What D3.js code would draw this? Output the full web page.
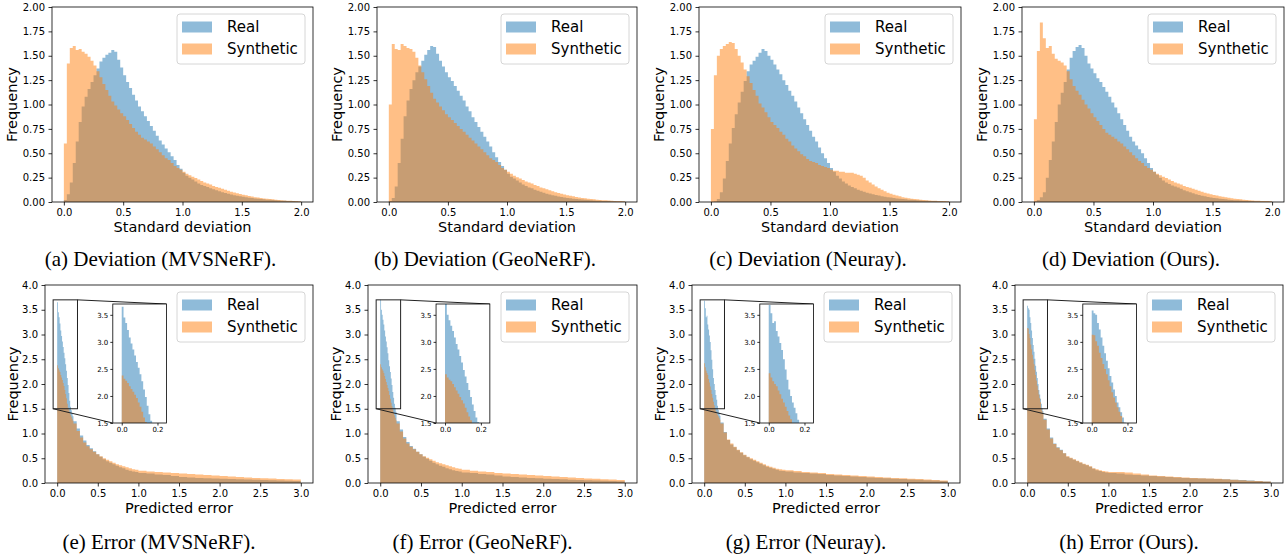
<!DOCTYPE html>
<html><head><meta charset="utf-8">
<script src="https://cdn.jsdelivr.net/npm/d3@7"></script>
<style>
body{margin:0;background:#fff;}
svg text{font-family:"DejaVu Sans",sans-serif;}
svg text.cap{font-family:"Liberation Serif","Times New Roman",serif;}
</style></head><body>
<svg id="c" width="1288" height="554"></svg>
<script>
// ---------------- DATA ----------------
const methods = ["MVSNeRF", "GeoNeRF", "Neuray", "Ours"];
const devLetters = ["a", "b", "c", "d"];
const errLetters = ["e", "f", "g", "h"];
const seriesNames = ["Real", "Synthetic"];
const devXLabel = "Standard deviation";
const errXLabel = "Predicted error";
const yLabel = "Frequency";
const devXTicks = [0, 0.5, 1.0, 1.5, 2.0];
const devYTicks = [0, 0.25, 0.5, 0.75, 1.0, 1.25, 1.5, 1.75, 2.0];
const errXTicks = [0, 0.5, 1.0, 1.5, 2.0, 2.5, 3.0];
const errYTicks = [0, 0.5, 1.0, 1.5, 2.0, 2.5, 3.0, 3.5, 4.0];
const insetXTicks = [0, 0.2];
const insetYTicks = [1.5, 2.0, 2.5, 3.0, 3.5];
const insetXLim = [-0.05, 0.25];
const insetYLim = [1.5, 3.7];

// Deviation histograms: 80 bins of width 0.025 over [0, 2] (density)
const devRange = [0, 2];
const devBins = 80;
const devReal_MVSNeRF = [
0.02,0.08,0.2,0.4,0.62,0.82,0.98,1.08,1.16,1.23,
1.3,1.37,1.44,1.48,1.51,1.53,1.56,1.54,1.46,1.38,
1.3,1.23,1.17,1.1,1.04,0.98,0.93,0.88,0.83,0.78,
0.73,0.68,0.63,0.59,0.55,0.51,0.47,0.43,0.38,0.34,
0.3,0.27,0.25,0.23,0.21,0.19,0.175,0.165,0.155,0.14,
0.13,0.12,0.11,0.1,0.092,0.085,0.078,0.07,0.064,0.058,
0.053,0.048,0.044,0.04,0.036,0.033,0.03,0.027,0.024,0.022,
0.02,0.018,0.016,0.014,0.012,0.011,0.01,0.009,0.007,0.006];
const devSyn_MVSNeRF = [
0.6,1.42,1.58,1.6,1.56,1.57,1.54,1.52,1.49,1.45,
1.4,1.34,1.28,1.21,1.15,1.09,1.03,0.99,0.95,0.91,
0.88,0.84,0.8,0.76,0.72,0.69,0.66,0.64,0.62,0.6,
0.57,0.54,0.51,0.48,0.45,0.43,0.4,0.37,0.35,0.33,
0.31,0.29,0.275,0.26,0.245,0.23,0.215,0.2,0.19,0.18,
0.165,0.155,0.145,0.135,0.125,0.115,0.105,0.097,0.09,0.082,
0.075,0.068,0.062,0.056,0.05,0.045,0.04,0.036,0.033,0.03,
0.027,0.024,0.021,0.018,0.016,0.014,0.012,0.011,0.009,0.008];
const devReal_GeoNeRF = [
0.01,0.04,0.16,0.4,0.65,0.88,1.04,1.16,1.25,1.33,
1.39,1.45,1.51,1.56,1.6,1.59,1.52,1.45,1.39,1.33,
1.28,1.24,1.19,1.14,1.09,1.04,0.98,0.93,0.87,0.82,
0.77,0.72,0.67,0.62,0.57,0.51,0.46,0.41,0.37,0.33,
0.29,0.26,0.24,0.22,0.2,0.18,0.165,0.15,0.14,0.125,
0.115,0.105,0.095,0.085,0.077,0.07,0.063,0.057,0.052,0.047,
0.042,0.038,0.034,0.031,0.028,0.025,0.022,0.02,0.018,0.016,
0.014,0.013,0.011,0.01,0.009,0.008,0.007,0.006,0.005,0.004];
const devSyn_GeoNeRF = [
1.0,1.62,1.57,1.56,1.62,1.6,1.58,1.57,1.54,1.48,
1.4,1.33,1.26,1.19,1.12,1.06,1.02,0.98,0.94,0.9,
0.87,0.84,0.81,0.78,0.75,0.72,0.69,0.66,0.63,0.6,
0.57,0.54,0.51,0.48,0.45,0.43,0.41,0.38,0.35,0.33,
0.31,0.29,0.27,0.255,0.24,0.225,0.21,0.2,0.19,0.175,
0.165,0.15,0.14,0.13,0.12,0.11,0.1,0.092,0.085,0.078,
0.07,0.064,0.058,0.052,0.047,0.042,0.038,0.034,0.03,0.027,
0.024,0.021,0.019,0.017,0.015,0.013,0.011,0.01,0.009,0.008];
const devReal_Neuray = [
0.0,0.005,0.03,0.1,0.24,0.42,0.6,0.76,0.9,1.02,
1.13,1.24,1.34,1.41,1.45,1.49,1.53,1.57,1.55,1.5,
1.46,1.41,1.36,1.31,1.25,1.2,1.14,1.09,1.03,0.97,
0.91,0.85,0.79,0.73,0.67,0.62,0.56,0.5,0.45,0.4,
0.35,0.31,0.27,0.24,0.21,0.19,0.17,0.155,0.14,0.125,
0.115,0.105,0.095,0.087,0.08,0.073,0.066,0.06,0.055,0.05,
0.045,0.041,0.037,0.033,0.03,0.027,0.024,0.022,0.02,0.018,
0.016,0.014,0.012,0.011,0.01,0.009,0.008,0.007,0.006,0.005];
const devSyn_Neuray = [
0.75,1.3,1.5,1.57,1.6,1.62,1.64,1.63,1.57,1.5,
1.43,1.36,1.29,1.22,1.15,1.09,1.01,0.97,0.92,0.87,
0.82,0.79,0.76,0.72,0.69,0.65,0.62,0.58,0.55,0.52,
0.49,0.47,0.44,0.42,0.41,0.4,0.38,0.37,0.36,0.35,
0.33,0.32,0.32,0.31,0.31,0.3,0.3,0.3,0.29,0.28,
0.27,0.25,0.22,0.2,0.18,0.16,0.14,0.125,0.11,0.095,
0.085,0.075,0.066,0.058,0.05,0.044,0.039,0.034,0.03,0.027,
0.024,0.021,0.018,0.016,0.014,0.012,0.011,0.01,0.009,0.008];
const devReal_Ours = [
0.005,0.02,0.05,0.1,0.25,0.43,0.62,0.82,1.0,1.12,
1.23,1.36,1.48,1.55,1.59,1.61,1.58,1.5,1.42,1.37,
1.32,1.27,1.23,1.18,1.13,1.08,1.02,0.97,0.91,0.85,
0.79,0.73,0.67,0.62,0.58,0.54,0.5,0.45,0.4,0.35,
0.31,0.28,0.25,0.22,0.2,0.185,0.17,0.16,0.15,0.135,
0.12,0.11,0.1,0.09,0.08,0.072,0.065,0.058,0.052,0.047,
0.042,0.038,0.034,0.03,0.027,0.024,0.021,0.019,0.017,0.015,
0.013,0.012,0.01,0.009,0.008,0.007,0.006,0.005,0.004,0.004];
const devSyn_Ours = [
0.85,1.55,1.84,1.68,1.58,1.6,1.52,1.47,1.45,1.43,
1.4,1.34,1.26,1.19,1.14,1.1,1.05,1.0,0.96,0.91,
0.87,0.83,0.79,0.75,0.71,0.69,0.67,0.65,0.62,0.6,
0.57,0.54,0.51,0.48,0.45,0.42,0.4,0.37,0.35,0.33,
0.31,0.29,0.275,0.26,0.245,0.23,0.215,0.2,0.19,0.18,
0.165,0.155,0.145,0.135,0.125,0.115,0.105,0.095,0.087,0.08,
0.073,0.066,0.06,0.054,0.048,0.043,0.038,0.034,0.03,0.027,
0.024,0.021,0.018,0.016,0.014,0.012,0.011,0.01,0.009,0.008];

// Error histograms: variable bins -> [start, end, count]
const errBinSegments = [[0, 0.2, 20], [0.2, 1.0, 20], [1.0, 3.0, 20]];
const errReal_MVSNeRF = [
3.65,3.45,3.35,3.22,3.08,2.97,2.86,2.75,2.63,2.52,2.4,2.27,2.12,1.98,1.82,1.66,1.54,1.47,1.41,1.35,
1.25,1.1,0.96,0.86,0.77,0.7,0.64,0.58,0.53,0.48,0.44,0.41,0.38,0.35,0.32,0.3,0.27,0.25,0.23,0.22,
0.2,0.19,0.17,0.16,0.14,0.12,0.11,0.1,0.095,0.09,0.085,0.08,0.075,0.07,0.065,0.06,0.055,0.05,0.045,0.04];
const errSyn_MVSNeRF = [
2.38,2.32,2.28,2.24,2.18,2.13,2.08,2.02,1.96,1.88,1.8,1.71,1.6,1.52,1.47,1.42,1.38,1.34,1.3,1.26,
1.2,1.05,0.92,0.82,0.74,0.68,0.63,0.58,0.54,0.5,0.47,0.44,0.41,0.38,0.36,0.34,0.32,0.3,0.28,0.27,
0.25,0.23,0.22,0.21,0.2,0.19,0.18,0.17,0.16,0.15,0.14,0.13,0.12,0.11,0.1,0.095,0.09,0.08,0.075,0.07];
const errReal_GeoNeRF = [
3.7,3.5,3.4,3.3,3.2,3.08,2.96,2.86,2.74,2.62,2.48,2.36,2.24,2.11,1.98,1.84,1.72,1.6,1.52,1.44,
1.25,1.08,0.93,0.83,0.75,0.69,0.63,0.58,0.53,0.49,0.45,0.41,0.38,0.35,0.33,0.3,0.28,0.26,0.24,0.23,
0.21,0.2,0.18,0.17,0.15,0.13,0.12,0.11,0.1,0.095,0.085,0.08,0.075,0.065,0.06,0.055,0.05,0.045,0.04,0.035];
const errSyn_GeoNeRF = [
2.4,2.34,2.3,2.27,2.22,2.16,2.1,2.04,1.98,1.92,1.86,1.78,1.7,1.62,1.55,1.48,1.42,1.37,1.32,1.27,
1.2,1.04,0.9,0.8,0.73,0.68,0.63,0.58,0.54,0.51,0.48,0.45,0.42,0.4,0.38,0.36,0.34,0.32,0.3,0.29,
0.27,0.25,0.23,0.22,0.2,0.19,0.18,0.17,0.16,0.15,0.14,0.13,0.12,0.11,0.1,0.09,0.085,0.075,0.07,0.06];
const errReal_Neuray = [
3.68,3.53,3.35,3.38,3.2,3.1,2.98,2.85,2.68,2.49,2.3,2.12,2.0,1.88,1.78,1.68,1.56,1.48,1.42,1.36,
1.22,1.03,0.87,0.78,0.72,0.66,0.61,0.56,0.52,0.48,0.45,0.42,0.39,0.36,0.33,0.31,0.29,0.27,0.25,0.24,
0.23,0.21,0.2,0.19,0.18,0.16,0.15,0.14,0.13,0.12,0.11,0.1,0.095,0.085,0.08,0.07,0.065,0.055,0.05,0.04];
const errSyn_Neuray = [
2.42,2.34,2.27,2.22,2.18,2.1,2.03,1.95,1.88,1.8,1.72,1.64,1.57,1.5,1.45,1.41,1.38,1.35,1.32,1.28,
1.2,1.02,0.88,0.8,0.73,0.67,0.62,0.57,0.53,0.5,0.47,0.44,0.41,0.38,0.35,0.33,0.31,0.29,0.28,0.27,
0.26,0.24,0.22,0.21,0.2,0.18,0.17,0.16,0.15,0.14,0.13,0.12,0.11,0.1,0.095,0.085,0.08,0.07,0.06,0.05];
const errReal_Ours = [
3.58,3.53,3.5,3.35,3.23,3.08,2.93,2.79,2.65,2.51,2.37,2.25,2.12,2.0,1.88,1.79,1.7,1.6,1.51,1.45,
1.3,1.1,0.92,0.8,0.72,0.67,0.6,0.53,0.5,0.47,0.44,0.41,0.38,0.36,0.33,0.29,0.26,0.24,0.22,0.21,
0.2,0.19,0.17,0.16,0.15,0.14,0.13,0.12,0.11,0.1,0.095,0.09,0.085,0.08,0.075,0.065,0.06,0.05,0.04,0.03];
const errSyn_Ours = [
3.13,3.12,3.01,2.93,2.8,2.7,2.59,2.5,2.4,2.29,2.18,2.07,1.97,1.88,1.79,1.71,1.63,1.51,1.45,1.4,
1.28,1.08,0.9,0.79,0.71,0.66,0.6,0.54,0.51,0.48,0.45,0.42,0.39,0.37,0.34,0.3,0.28,0.26,0.24,0.23,
0.22,0.22,0.21,0.19,0.17,0.15,0.14,0.13,0.12,0.11,0.1,0.095,0.09,0.085,0.075,0.065,0.055,0.045,0.04,0.03];

const devData = [[devReal_MVSNeRF, devSyn_MVSNeRF], [devReal_GeoNeRF, devSyn_GeoNeRF],
                 [devReal_Neuray, devSyn_Neuray], [devReal_Ours, devSyn_Ours]];
const errData = [[errReal_MVSNeRF, errSyn_MVSNeRF], [errReal_GeoNeRF, errSyn_GeoNeRF],
                 [errReal_Neuray, errSyn_Neuray], [errReal_Ours, errSyn_Ours]];

// ---------------- LAYOUT / STYLE ----------------
const colors = ["#1f77b4", "#ff7f0e"];
const topBoxes = [[52, 313], [377, 637], [699, 961], [1022, 1284]];
const botBoxes = [[45, 313], [368, 637], [692, 960], [1015, 1283]];

const devEdges = d3.range(devBins + 1).map(i => devRange[0] + i * (devRange[1] - devRange[0]) / devBins);
const errEdges = [0];
errBinSegments.forEach(([a, b, n]) => { for (let i = 1; i <= n; i++) errEdges.push(a + i * (b - a) / n); });

const svg = d3.select("#c");

function histPath(values, edges, x, y) {
  const pts = values.map((v, i) => [edges[i], v]);
  pts.push([edges[values.length], values[values.length - 1]]);
  return d3.area().x(d => x(d[0])).y0(y(0)).y1(d => y(d[1])).curve(d3.curveStepAfter)(pts);
}

function styleAxis(sel, fs) {
  sel.select(".domain").remove();
  sel.selectAll(".tick line").attr("stroke", "#000").attr("stroke-width", 0.8);
  sel.selectAll(".tick text").attr("fill", "#000").attr("font-size", fs);
}

let clipId = 0;
function drawPanel(o) {
  const g = svg.append("g");
  const x = d3.scaleLinear().domain(o.xDomain).range([o.l, o.r]);
  const y = d3.scaleLinear().domain(o.yDomain).range([o.b, o.t]);
  o.series.forEach((s, k) => {
    g.append("path").attr("d", histPath(s, o.edges, x, y))
      .attr("fill", colors[k]).attr("fill-opacity", 0.5);
  });
  // axes
  const ax = g.append("g").attr("transform", `translate(0,${o.b})`)
    .call(d3.axisBottom(x).tickValues(o.xTicks).tickFormat(d3.format(".1f")).tickSize(3.5).tickPadding(3.5).tickSizeOuter(0));
  styleAxis(ax, 10);
  const ay = g.append("g").attr("transform", `translate(${o.l},0)`)
    .call(d3.axisLeft(y).tickValues(o.yTicks).tickFormat(d3.format(o.yFmt)).tickSize(3.5).tickPadding(3.5).tickSizeOuter(0));
  styleAxis(ay, 10);
  g.append("rect").attr("x", o.l).attr("y", o.t).attr("width", o.r - o.l).attr("height", o.b - o.t)
    .attr("fill", "none").attr("stroke", "#000").attr("stroke-width", 0.8);
  // labels
  g.append("text").attr("x", (o.l + o.r) / 2).attr("y", o.b + 29.5).attr("text-anchor", "middle")
    .attr("font-size", 14.5).attr("fill", "#000").text(o.xLabel);
  g.append("text").attr("transform", `translate(${o.l + o.yLabOff},${(o.t + o.b) / 2}) rotate(-90)`)
    .attr("text-anchor", "middle").attr("font-size", 14.5).attr("fill", "#000").text(yLabel);
  // inset
  if (o.inset) {
    const W = o.r - o.l;
    const il = o.l + 0.253 * W, ir = il + 0.2 * W, it = o.t + 19, ib = it + 119;
    const rx0 = x(insetXLim[0]), rx1 = x(insetXLim[1]), ry0 = y(insetYLim[0]), ry1 = y(insetYLim[1]);
    g.append("rect").attr("x", rx0).attr("y", ry1).attr("width", rx1 - rx0).attr("height", ry0 - ry1)
      .attr("fill", "none").attr("stroke", "#222").attr("stroke-width", 1);
    g.append("line").attr("x1", rx1).attr("y1", ry1).attr("x2", ir).attr("y2", it)
      .attr("stroke", "#222").attr("stroke-width", 1);
    g.append("line").attr("x1", rx0).attr("y1", ry0).attr("x2", il).attr("y2", ib)
      .attr("stroke", "#222").attr("stroke-width", 1);
    const xi = d3.scaleLinear().domain(insetXLim).range([il, ir]);
    const yi = d3.scaleLinear().domain(insetYLim).range([ib, it]);
    const id = "clip" + (clipId++);
    g.append("clipPath").attr("id", id).append("rect").attr("x", il).attr("y", it)
      .attr("width", ir - il).attr("height", ib - it);
    g.append("rect").attr("x", il).attr("y", it).attr("width", ir - il).attr("height", ib - it).attr("fill", "#fff");
    const gi = g.append("g").attr("clip-path", `url(#${id})`);
    o.series.forEach((s, k) => {
      gi.append("path").attr("d", histPath(s, o.edges, xi, yi))
        .attr("fill", colors[k]).attr("fill-opacity", 0.5);
    });
    const aix = g.append("g").attr("transform", `translate(0,${ib})`)
      .call(d3.axisBottom(xi).tickValues(insetXTicks).tickFormat(d3.format(".1f")).tickSize(2.5).tickPadding(2).tickSizeOuter(0));
    styleAxis(aix, 7);
    const aiy = g.append("g").attr("transform", `translate(${il},0)`)
      .call(d3.axisLeft(yi).tickValues(insetYTicks).tickFormat(d3.format(".1f")).tickSize(2.5).tickPadding(2).tickSizeOuter(0));
    styleAxis(aiy, 7);
    g.append("rect").attr("x", il).attr("y", it).attr("width", ir - il).attr("height", ib - it)
      .attr("fill", "none").attr("stroke", "#000").attr("stroke-width", 0.8);
  }
  // legend
  const lw = 128, lh = 50, lx = o.r - 8 - lw, ly = o.t + 7;
  g.append("rect").attr("x", lx).attr("y", ly).attr("width", lw).attr("height", lh).attr("rx", 3)
    .attr("fill", "#fff").attr("fill-opacity", 0.8).attr("stroke", "#cccccc").attr("stroke-width", 0.8);
  seriesNames.forEach((name, k) => {
    g.append("rect").attr("x", lx + 5).attr("y", ly + 7.5 + k * 22).attr("width", 30).attr("height", 11)
      .attr("fill", colors[k]).attr("fill-opacity", 0.5);
    g.append("text").attr("x", lx + 50).attr("y", ly + 18 + k * 22).attr("font-size", 15)
      .attr("fill", "#000").text(name);
  });
  // caption
  svg.append("text").attr("class", "cap").attr("x", (o.l + o.r) / 2 + o.capOff).attr("y", o.capY)
    .attr("text-anchor", "middle").attr("font-size", 21).attr("fill", "#000").text(o.caption);
}

methods.forEach((m, i) => {
  drawPanel({
    l: topBoxes[i][0], r: topBoxes[i][1], t: 7, b: 202,
    xDomain: [-0.1, 2.1], yDomain: [0, 2], xTicks: devXTicks, yTicks: devYTicks, yFmt: ".2f",
    edges: devEdges, series: devData[i], xLabel: devXLabel, yLabOff: -35, inset: false,
    caption: `(${devLetters[i]}) Deviation (${m}).`, capOff: -22, capY: 266
  });
  drawPanel({
    l: botBoxes[i][0], r: botBoxes[i][1], t: 285, b: 483,
    xDomain: [-0.15, 3.15], yDomain: [0, 4], xTicks: errXTicks, yTicks: errYTicks, yFmt: ".1f",
    edges: errEdges, series: errData[i], xLabel: errXLabel, yLabOff: -27, inset: true,
    caption: `(${errLetters[i]}) Error (${m}).`, capOff: -20, capY: 549
  });
});
</script>
</body></html>
